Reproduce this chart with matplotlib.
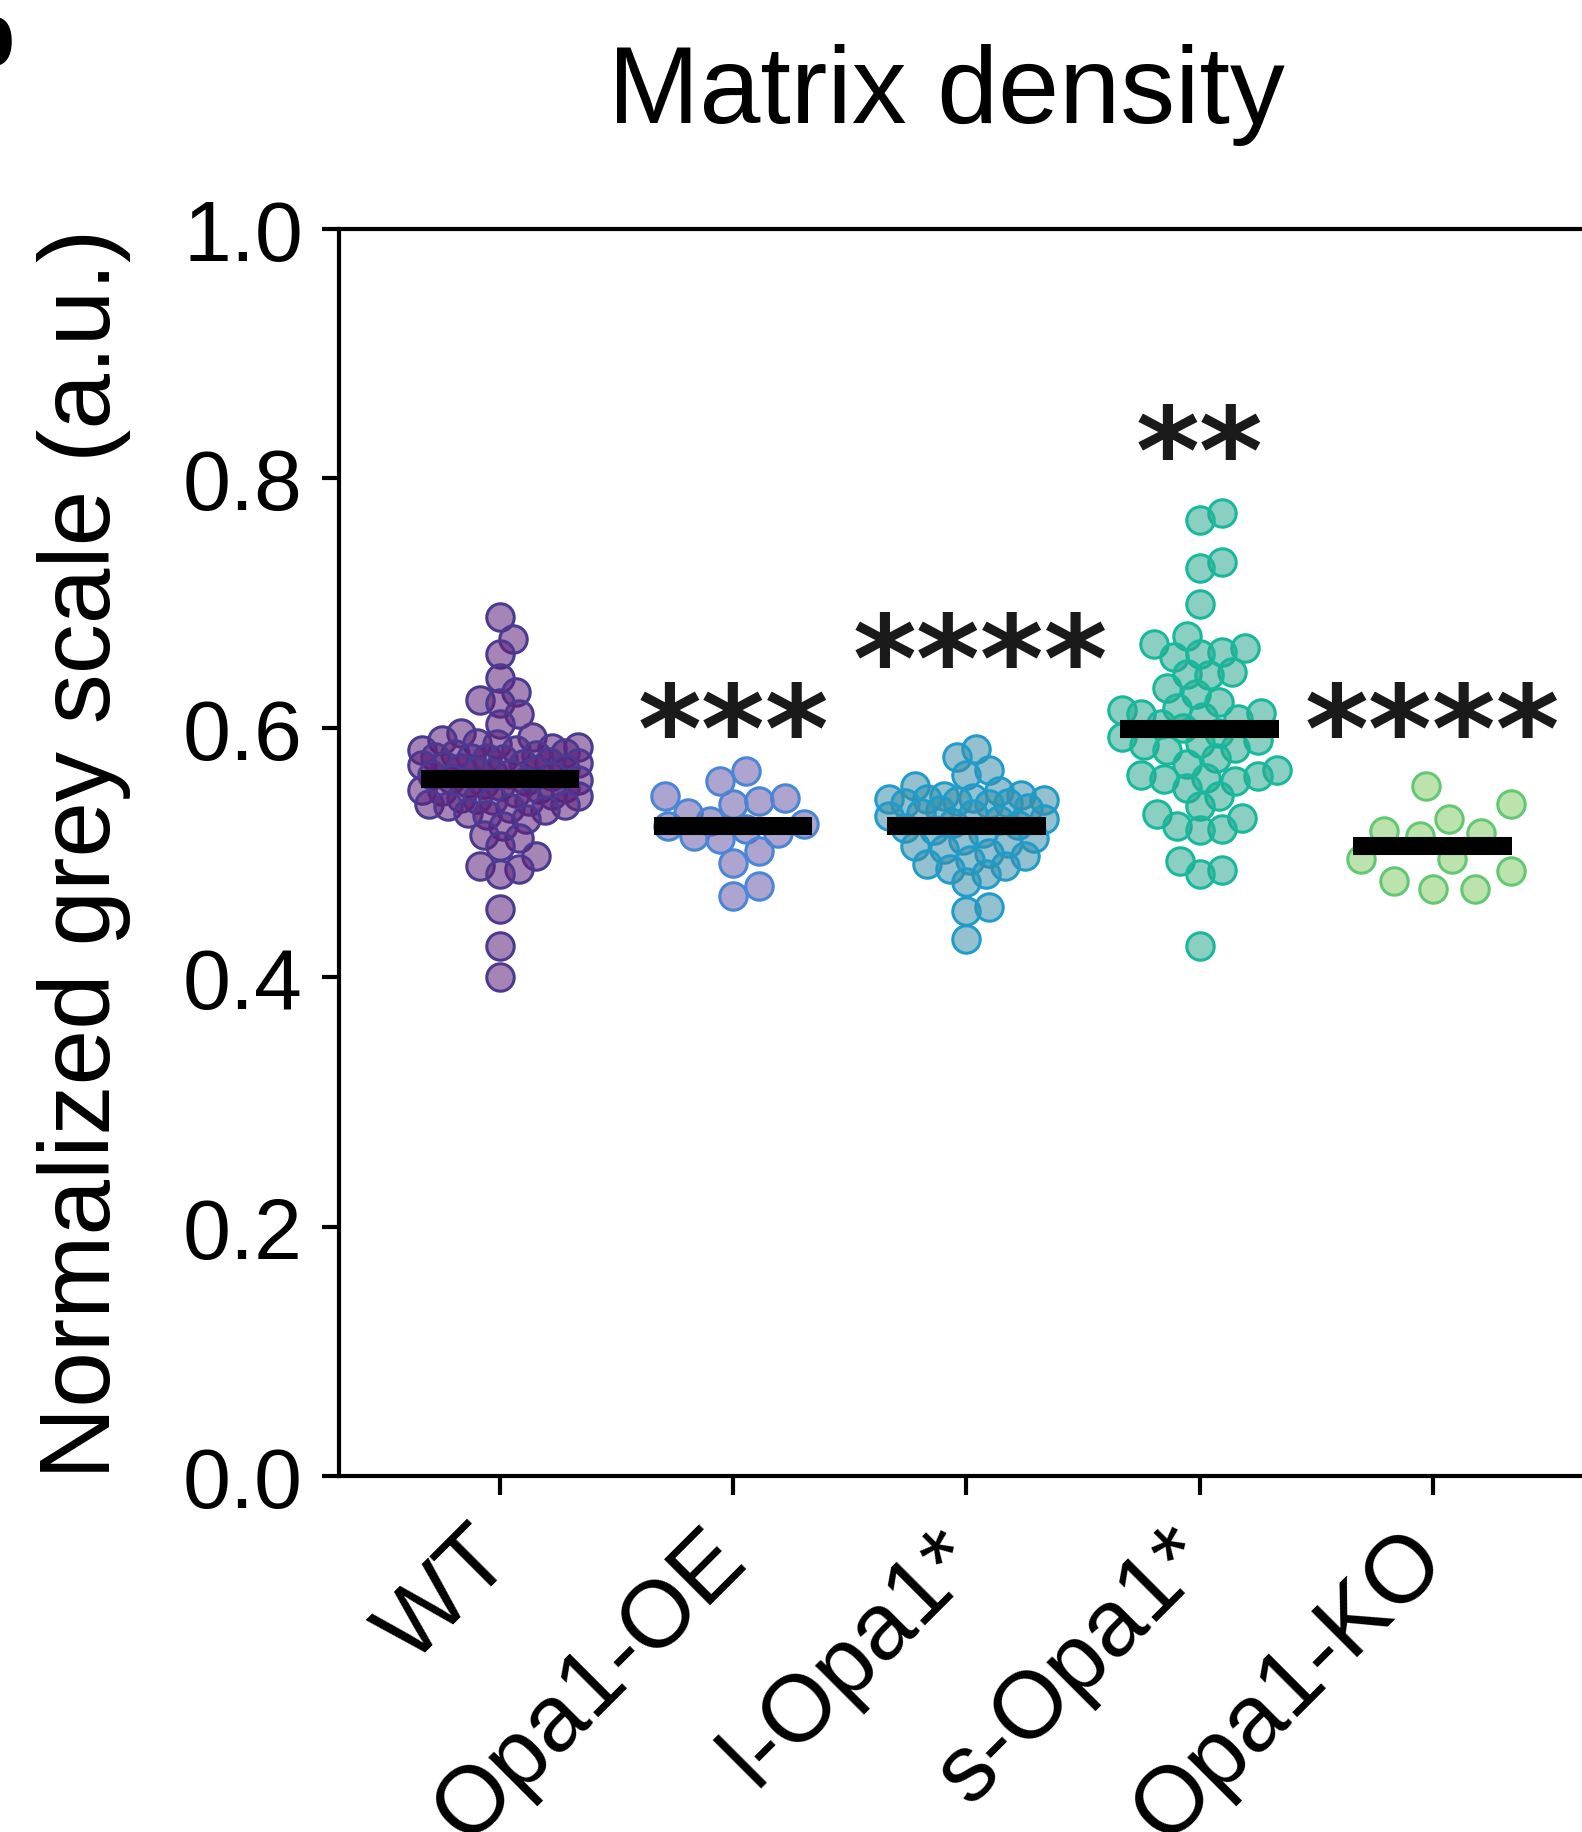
import numpy as np
import matplotlib.pyplot as plt
import matplotlib.transforms as mtransforms
from matplotlib.colors import to_rgba

plt.rcParams['font.family'] = ['Liberation Sans', 'DejaVu Sans']

groups = ['WT', 'Opa1-OE', 'l-Opa1*', 's-Opa1*', 'Opa1-KO']

wt = [0.689, 0.671, 0.659, 0.640, 0.629, 0.622, 0.620, 0.611, 0.603, 0.596, 0.593, 0.590, 0.588,
      0.587, 0.585, 0.584, 0.582, 0.582, 0.580, 0.579, 0.578, 0.577, 0.576, 0.576, 0.575, 0.573,
      0.572, 0.571, 0.570, 0.569, 0.568, 0.567, 0.566, 0.565, 0.564, 0.563, 0.562, 0.561, 0.559,
      0.558, 0.557, 0.556, 0.555, 0.553, 0.552, 0.551, 0.550, 0.549, 0.548, 0.546, 0.545, 0.544,
      0.543, 0.542, 0.541, 0.539, 0.538, 0.537, 0.536, 0.534, 0.532, 0.530,
      0.527, 0.521, 0.514, 0.512, 0.505, 0.497, 0.489, 0.487, 0.483, 0.455, 0.425, 0.400]
opa1_oe = [0.565, 0.557, 0.545, 0.544, 0.541, 0.539, 0.532, 0.525, 0.523, 0.521, 0.519, 0.516,
           0.513, 0.511, 0.501, 0.492, 0.473, 0.465]
l_opa1 = [0.583, 0.577, 0.566, 0.562, 0.553, 0.549,
          0.546, 0.545, 0.544, 0.543, 0.543, 0.542, 0.541, 0.540, 0.540, 0.539,
          0.536, 0.534, 0.532, 0.531, 0.529, 0.527, 0.526, 0.524,
          0.522, 0.520, 0.518, 0.516,
          0.512, 0.510, 0.508, 0.505, 0.503, 0.500, 0.497, 0.494, 0.491, 0.489, 0.487, 0.483,
          0.476, 0.456, 0.453, 0.431]
s_opa1 = [0.772, 0.767, 0.733, 0.728, 0.699, 0.674, 0.667, 0.664, 0.661, 0.659, 0.657, 0.645,
          0.643, 0.642, 0.632, 0.627, 0.621, 0.616, 0.614, 0.612, 0.611, 0.609, 0.607, 0.603,
          0.600, 0.596, 0.593, 0.590, 0.588, 0.586, 0.584, 0.582, 0.576, 0.571, 0.566, 0.562,
          0.561, 0.560, 0.559, 0.557, 0.552, 0.545, 0.537, 0.531, 0.528, 0.521, 0.519, 0.518,
          0.493, 0.486, 0.483, 0.425]
opa1_ko = [0.553, 0.539, 0.527, 0.517, 0.516, 0.513, 0.495, 0.495, 0.485, 0.477, 0.471, 0.471]

stars = ['', '***', '****', '**', '****']

data = [wt, opa1_oe, l_opa1, s_opa1, opa1_ko]
edge_cols = ['#4b3a92', '#4a86d8', '#1f9ccb', '#17b89c', '#62c872']
face_cols = ['#5e1f78', '#6a5ba8', '#3a8fa8', '#2aa98f', '#86cc6a']
spacing = [0.72, 0.95, 0.75, 0.8, 1.45]
star_x = [0, 1, 2.06, 3, 4]
star_y = [0, 0.592, 0.648, 0.815, 0.592]


def swarm(vals, xc, ax, diam, overlap=0.72, halfwidth=0.34):
    # simple beeswarm in pixel space, points may overlap a bit
    vals = np.asarray(vals, dtype=float)
    p0 = ax.transData.transform((0, 0))
    p1 = ax.transData.transform((1, 1))
    sx = p1[0] - p0[0]
    sy = p1[1] - p0[1]
    ypx = vals * sy
    maxoff = halfwidth * sx
    step = diam * 0.12
    cands = [0.0]
    k = 1
    while k * step <= maxoff:
        cands += [k * step, -k * step]
        k += 1
    px, py = [], []
    xs = np.zeros(len(vals))
    for i in np.argsort(vals):
        best, bestd = 0.0, -1
        for c in cands:
            if px:
                d = np.min(np.hypot(np.array(px) - c, np.array(py) - ypx[i]))
            else:
                d = np.inf
            if d >= overlap * diam:
                best = c
                break
            if d > bestd:
                bestd, best = d, c
        px.append(best)
        py.append(ypx[i])
        xs[i] = xc + best / sx
    return xs


fig = plt.figure(figsize=(15.82, 18.33), dpi=100)
ax = fig.add_axes([0.2143, 0.1942, 0.7857, 0.6803])
ax.set_xlim(-0.69, 4.64)
ax.set_ylim(0, 1.0)

for i, vals in enumerate(data):
    xs = swarm(vals, i, ax, 27, overlap=spacing[i])
    ax.scatter(xs, vals, s=390, facecolor=to_rgba(face_cols[i], 0.55),
               edgecolor=edge_cols[i], linewidth=2.2, zorder=3)
    m = np.mean(vals)
    ax.plot([i - 0.34, i + 0.34], [m, m], color='black', linewidth=13,
            solid_capstyle='butt', zorder=4)
    if stars[i]:
        ax.text(star_x[i], star_y[i], stars[i], ha='center', va='center', fontsize=88,
                fontweight='bold', family='DejaVu Sans', color='#1a1a1a')

ax.spines['right'].set_visible(False)
for s in ['left', 'top', 'bottom']:
    ax.spines[s].set_linewidth(3)

ax.set_yticks([0, 0.2, 0.4, 0.6, 0.8, 1.0])
ax.set_yticklabels(['0.0', '0.2', '0.4', '0.6', '0.8', '1.0'])
ax.set_xticks(range(len(groups)))
ax.set_xticklabels(groups, rotation=45, ha='right', rotation_mode='anchor')
ax.tick_params(axis='both', direction='out', width=3, labelsize=62)
ax.tick_params(axis='y', length=12, pad=14)
ax.tick_params(axis='x', length=14, pad=12, labelsize=68)
shift = mtransforms.ScaledTranslation(-24 / 72, 0, fig.dpi_scale_trans)
for lab in ax.get_xticklabels():
    lab.set_transform(lab.get_transform() + shift)

ax.set_ylabel('Normalized grey scale (a.u.)', fontsize=72)
ax.yaxis.set_label_coords(-0.167, 0.5)

fig.text(0.598, 0.933, 'Matrix density', ha='center', va='baseline', fontsize=79)
fig.text(0.009, 1.0, 'b', ha='right', va='top', fontsize=64, fontweight='bold')

fig.savefig('out.png', dpi=100)
